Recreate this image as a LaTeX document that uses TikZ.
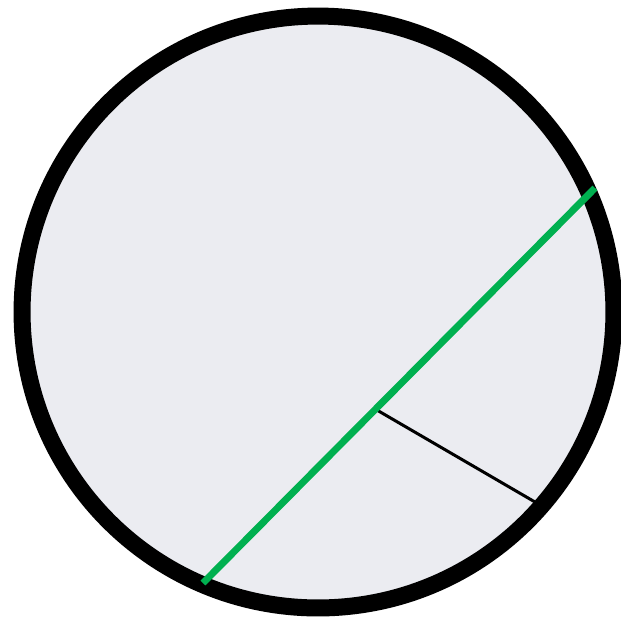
\documentclass[tikz,border=0pt]{standalone}
\usetikzlibrary{calc}

\definecolor{discfill}{RGB}{235,236,241}
\definecolor{chordgreen}{RGB}{0,176,80}

\begin{document}
\begin{tikzpicture}[
	x=0.02cm, y=-0.02cm,
	disc/.style={
		circle, draw=black, fill=discfill,
		line width=0.34cm, minimum size=11.84cm,
		inner sep=0pt, outer sep=0pt
	},
	chord/.style={line width=0.14cm, chordgreen},
	seg/.style={line width=0.06cm, black}
]
\useasboundingbox (0,0) rectangle (621,620);

% Disc
\node[disc] (ring) at (318,312) {};

% Chord ends and foot
\coordinate (chordA) at (203,583);
\coordinate (chordB) at (595,188);
\coordinate (foot)   at ($(chordA)!0.44!(chordB)$);
\coordinate (rim)    at (535,502);

\draw[seg] (foot) -- (rim);
\draw[chord] (chordA) -- (chordB);

\end{tikzpicture}
\end{document}
